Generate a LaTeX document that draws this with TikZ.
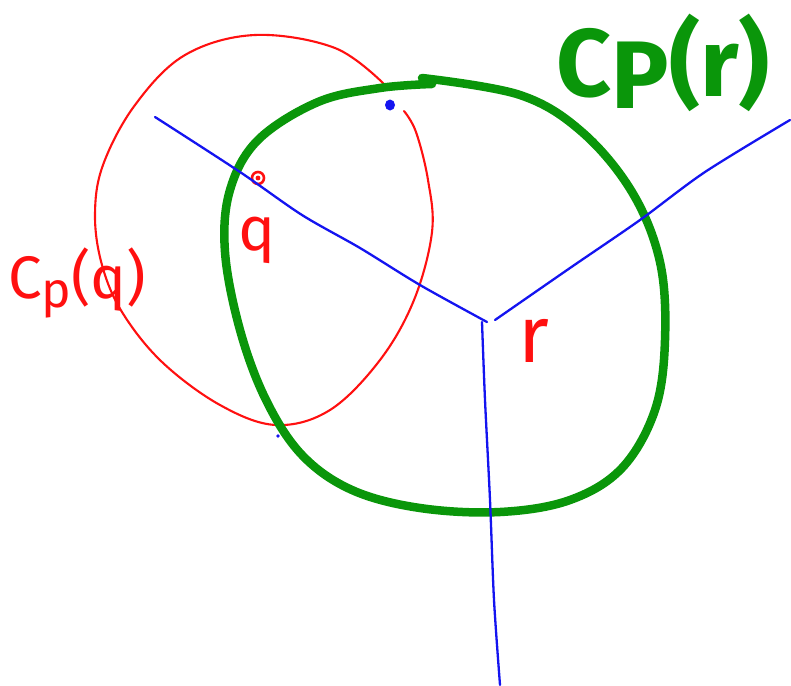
\documentclass[tikz,border=0pt]{standalone}
\usepackage{fontspec}
\setsansfont{Fira Sans}
\usetikzlibrary{calc}
\definecolor{penred}{HTML}{FF1010}
\definecolor{pengreen}{HTML}{0A960A}
\definecolor{penblue}{HTML}{1414F0}

\begin{document}
\begin{tikzpicture}[
  x=1pt,y=-1pt,line cap=round,line join=round,
  redpen/.style={draw=penred,line width=2.1pt},
  greenpen/.style={draw=pengreen,line width=8.5pt},
  bluepen/.style={draw=penblue,line width=2.3pt},
  hand/.style={font=\sffamily,inner sep=0pt}
]
\useasboundingbox (0,0) rectangle (791,685);
\coordinate (r) at (487,322);
% red circle C_p(q), open where the blue point sits
\draw[redpen] plot[smooth,tension=0.6] coordinates {
  (385,85) (335,48) (255,35) (185,55) (135,105) (103,165) (95,215)
  (102,265) (122,312) (162,362) (220,405) (276,425) (330,410)
  (380,360) (414,300) (432,232) (428,180) (416,132) (404,111)};
\draw[redpen,line width=2.6pt] (258,178) circle (6);
\fill[penred] (258,178) circle (2.4);
% thick green circle C_P(r)
\draw[greenpen] plot[smooth,tension=0.6] coordinates {
  (422,78) (520,95) (582,132) (632,192) (660,262) (665,340)
  (655,410) (622,468) (570,500) (500,512) (420,508) (352,490)
  (302,455) (266,400) (240,330) (225,252) (230,190) (258,140)
  (318,102) (380,88) (432,84)};
% Voronoi edges around r
\draw[bluepen] plot[smooth,tension=0.5] coordinates {
  (155,117) (240,172) (302,215) (360,248) (420,285) (r)};
\draw[bluepen] plot[smooth,tension=0.5] coordinates {
  (495,320) (570,268) (640,220) (705,172) (790,120)};
\draw[bluepen] plot[smooth,tension=0.5] coordinates {
  ($(r)+(-5,0)$) (485,400) (490,500) (494,600) (500,685)};
\fill[penblue] (390,105) ellipse (5 and 5.5);
\fill[penblue] (278,436) circle (1.8);
% labels
\node[hand,text=penred,anchor=base] (labq) at (257,250) {\fontsize{62}{62}\selectfont q};
\node[hand,text=penred,anchor=base] (labr) at (534,362) {\fontsize{80}{80}\selectfont r};
\node[hand,text=penred,anchor=base west] (labCq) at (8,298)
  {\fontsize{60}{60}\selectfont C\raisebox{-0.3ex}{\fontsize{50}{50}\selectfont p}(q)};
\node[hand,text=pengreen,anchor=base west] (labCr) at (556,96)
  {\fontsize{96}{96}\selectfont\bfseries C\raisebox{-0.25ex}{P}(r)};
\end{tikzpicture}
\end{document}
